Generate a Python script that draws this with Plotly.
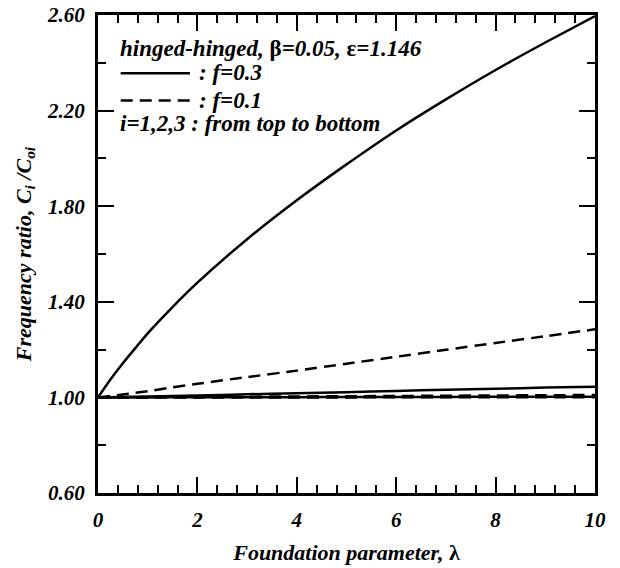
import plotly.graph_objects as go

lam = [0, 0.25, 0.5, 0.75, 1, 1.5, 2, 3, 4, 5, 6, 7, 8, 9, 10]
solid_i1 = [1.0, 1.075, 1.143, 1.206, 1.268, 1.378, 1.480, 1.662, 1.825, 1.975, 2.117, 2.247, 2.370, 2.485, 2.595]
dash_i1 = [1.0, 1.006, 1.012, 1.019, 1.026, 1.042, 1.057, 1.085, 1.112, 1.141, 1.170, 1.199, 1.228, 1.256, 1.285]
solid_i2 = [1.0, 1.001, 1.002, 1.003, 1.004, 1.006, 1.008, 1.013, 1.017, 1.022, 1.027, 1.032, 1.036, 1.041, 1.045]
dash_i2 = [1.0, 1.0, 1.0005, 1.0008, 1.001, 1.0015, 1.002, 1.003, 1.004, 1.005, 1.006, 1.007, 1.008, 1.009, 1.01]
solid_i3 = [1.0, 1.0, 1.0, 1.0, 1.0, 1.0003, 1.0005, 1.001, 1.001, 1.0015, 1.002, 1.002, 1.0025, 1.003, 1.003]
dash_i3 = [1.0, 1.0, 1.0, 1.0, 1.0, 1.0, 1.0, 1.0, 1.0, 1.0, 1.0005, 1.0005, 1.001, 1.001, 1.001]

x_ticks = [0, 2, 4, 6, 8, 10]
y_ticks = [0.6, 1.0, 1.4, 1.8, 2.2, 2.6]
y_tick_labels = ["0.60", "1.00", "1.40", "1.80", "2.20", "2.60"]

FONT = "Liberation Serif"
DASH = "12px,7px"

fig = go.Figure()
for ys, dash in [(solid_i1, "solid"), (dash_i1, DASH), (solid_i2, "solid"),
                 (dash_i2, DASH), (solid_i3, "solid"), (dash_i3, DASH)]:
    fig.add_trace(go.Scatter(x=lam, y=ys, mode="lines", line_shape="spline",
                             line=dict(color="black", width=2.5, dash=dash, smoothing=0.6),
                             showlegend=False, hoverinfo="skip"))

bi = dict(family=FONT, color="black", weight="bold", style="italic")
axis_common = dict(
    showgrid=False, zeroline=False, showline=True, linecolor="black", linewidth=3,
    mirror="ticks", ticks="inside", ticklen=16, tickwidth=2, tickcolor="black",
    tickfont=dict(size=21, **bi), ticklabelstandoff=6, automargin=False,
)

fig.update_xaxes(range=[0, 10], tickvals=x_ticks, ticktext=[str(v) for v in x_ticks],
                 minor=dict(ticks="inside", ticklen=8, tickwidth=2, dtick=0.4, tickcolor="black"),
                 title=dict(text="Foundation parameter, <span style='font-style:normal'>λ</span>",
                            font=dict(size=22, **bi), standoff=14),
                 **axis_common)
fig.update_yaxes(range=[0.6, 2.6], tickvals=y_ticks, ticktext=y_tick_labels,
                 minor=dict(ticks="inside", ticklen=8, tickwidth=2, dtick=0.2, tickcolor="black"),
                 title=dict(text="Frequency ratio, C<sub>i</sub> /C<sub>oi</sub>",
                            font=dict(size=22, **bi), standoff=10),
                 **axis_common)

afont = dict(size=23, **bi)
up = "<span style='font-style:normal'>"
annots = [
    (0.041, 0.929, f"hinged-hinged, {up}β</span>=0.05, {up}ε</span>=1.146"),
    (0.199, 0.879, ": f=0.3"),
    (0.199, 0.822, ": f=0.1"),
    (0.041, 0.772, "i=1,2,3 : from top to bottom"),
]
for ax, ay, t in annots:
    fig.add_annotation(x=ax, y=ay, xref="paper", yref="paper", text=t, showarrow=False,
                       xanchor="left", yanchor="middle", font=afont)

fig.add_shape(type="line", xref="paper", yref="paper", x0=0.0457, x1=0.185, y0=0.878, y1=0.878,
              line=dict(color="black", width=2.5))
fig.add_shape(type="line", xref="paper", yref="paper", x0=0.0457, x1=0.185, y0=0.821, y1=0.821,
              line=dict(color="black", width=2.5, dash=DASH))

fig.update_layout(width=620, height=568, margin=dict(l=98, r=25, t=15, b=75),
                  plot_bgcolor="white", paper_bgcolor="white",
                  font=dict(family=FONT, color="black"))
fig.write_html("out.html")
